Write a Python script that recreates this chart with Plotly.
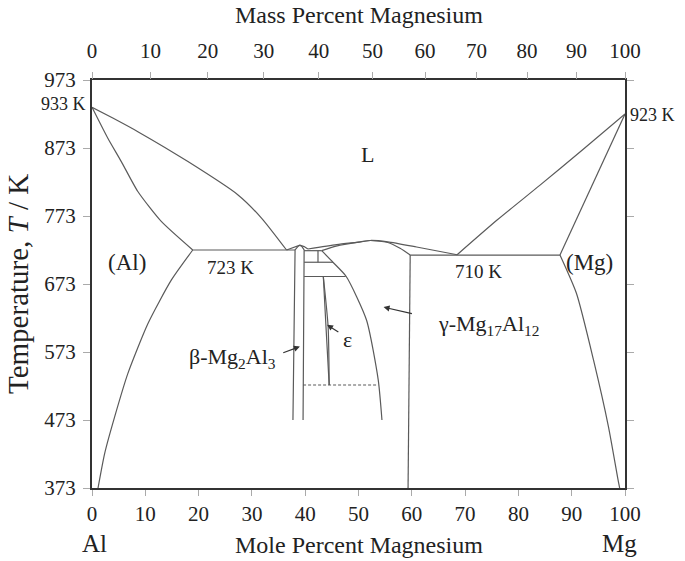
import plotly.graph_objects as go

# ---- data (mole % Mg, temperature K) ----
liq_al_x = [0, 3.9, 8.6, 18.0, 27.4, 31.8, 36.5]
liq_al_t = [933, 917, 897, 853, 804, 770, 723]

sol_al_x = [0, 3.0, 5.5, 8.6, 13.0, 18.9]
sol_al_t = [933, 887, 853, 809, 765, 723]

solv_al_x = [18.9, 14.9, 10.5, 6.75, 4.26, 2.38, 1.13]
solv_al_t = [723, 679, 615, 542, 478, 424, 373]

eut1_x = [18.9, 38.1]
eut1_t = [723, 723]

beta_liq_x = [36.5, 38.3, 39.0, 39.8, 40.5]
beta_liq_t = [723, 728, 730, 728, 724.5]

beta_left_x = [39.0, 38.6, 38.1, 37.7]
beta_left_t = [730, 728, 723, 473]
beta_right_x = [39.0, 39.4, 39.8, 39.6]
beta_right_t = [730, 728, 723, 473]

eut2_x = [39.8, 43.1]
eut2_t = [722, 722]

short_v_x = [42.4, 42.4]
short_v_t = [722, 705]
h705_x = [39.8, 45.2]
h705_t = [705, 705]
h685_x = [39.8, 47.6]
h685_t = [684, 684]

gam_liq_x = [40.5, 45.9, 50.3, 52.2, 55.5, 60.9, 68.5]
gam_liq_t = [724.5, 731, 735, 737, 735, 727.4, 716]

gam_sol_l_x = [43.1, 46.0, 50.0, 52.2]
gam_sol_l_t = [722, 729, 734.5, 737]
gam_sol_r_x = [52.2, 55.5, 57.8, 59.7]
gam_sol_r_t = [737, 734, 725.5, 715.6]

gam_left_x = [43.1, 45.2, 47.7, 51.5, 53.7, 54.4]
gam_left_t = [722, 705, 684, 620, 532, 473]

gam_right_x = [59.7, 59.3]
gam_right_t = [715.6, 373]

eps_l_x = [43.4, 43.9, 44.5]
eps_l_t = [684, 610, 524.5]
eps_r_x = [43.4, 44.3, 44.5]
eps_r_t = [684, 610, 524.5]

dash_x = [39.6, 53.7]
dash_t = [524.5, 524.5]

eut3_x = [59.7, 87.8]
eut3_t = [715.6, 715.6]

liq_mg_x = [68.5, 76, 84, 92, 100]
liq_mg_t = [716, 767, 818, 870, 923]

sol_mg_x = [87.8, 100]
sol_mg_t = [715.6, 923]

solv_mg_x = [87.8, 90.9, 94.1, 96.9, 98.7, 99.0]
solv_mg_t = [715.6, 659, 561, 463, 385, 373]

x_ticks = [0, 10, 20, 30, 40, 50, 60, 70, 80, 90, 100]
y_ticks = [373, 473, 573, 673, 773, 873, 973]
mass_ticks = [0, 10, 20, 30, 40, 50, 60, 70, 80, 90, 100]
M_MG, M_AL = 24.305, 26.982


def mass_to_mole(w):
    if w >= 100:
        return 100.0
    a = w / M_MG
    b = (100 - w) / M_AL
    return 100 * a / (a + b)


mass_pos = [mass_to_mole(w) for w in mass_ticks]

LC = "#5a5a5a"
FONT = "Liberation Serif"

fig = go.Figure()


def add_line(xs, ts, dash=None, smooth=False):
    line = dict(color=LC, width=1.2, dash=dash)
    if smooth:
        line.update(shape="spline", smoothing=0.6)
    fig.add_trace(go.Scatter(x=xs, y=ts, mode="lines", line=line,
                             showlegend=False, hoverinfo="skip"))


for xs, ts, sm in [(liq_al_x, liq_al_t, True), (sol_al_x, sol_al_t, True),
                   (solv_al_x, solv_al_t, True),
                   (eut1_x, eut1_t, False), (beta_liq_x, beta_liq_t, False),
                   (beta_left_x, beta_left_t, False), (beta_right_x, beta_right_t, False),
                   (eut2_x, eut2_t, False), (short_v_x, short_v_t, False),
                   (h705_x, h705_t, False), (h685_x, h685_t, False),
                   (gam_liq_x, gam_liq_t, True), (gam_sol_l_x, gam_sol_l_t, True),
                   (gam_sol_r_x, gam_sol_r_t, True), (gam_left_x, gam_left_t, True),
                   (gam_right_x, gam_right_t, False), (eps_l_x, eps_l_t, True),
                   (eps_r_x, eps_r_t, True), (eut3_x, eut3_t, False),
                   (liq_mg_x, liq_mg_t, True), (sol_mg_x, sol_mg_t, False),
                   (solv_mg_x, solv_mg_t, True)]:
    add_line(xs, ts, smooth=sm)
add_line(dash_x, dash_t, dash="3px,2px")

# invisible trace for top axis
fig.add_trace(go.Scatter(x=[0, 100], y=[373, 373], xaxis="x2", mode="lines",
                         line=dict(width=0), showlegend=False, hoverinfo="skip"))

tickfont = dict(family=FONT, size=21, color="#222")

fig.update_layout(
    width=685, height=561,
    margin=dict(l=92, r=60, t=80, b=73),
    plot_bgcolor="white", paper_bgcolor="white",
    font=dict(family=FONT, color="#222"),
    xaxis=dict(range=[0, 100], tickvals=x_ticks, ticktext=[str(v) for v in x_ticks],
               ticks="outside", ticklen=6, tickcolor="#aaa", tickwidth=1,
               showline=True, linecolor="#333", linewidth=2, mirror=True,
               showgrid=False, zeroline=False, tickfont=tickfont),
    xaxis2=dict(range=[0, 100], overlaying="x", side="top", anchor="y",
                tickvals=mass_pos, ticktext=[str(v) for v in mass_ticks],
                ticks="outside", ticklen=7, tickcolor="#aaa", tickwidth=1,
                ticklabelstandoff=6,
                showline=False, showgrid=False, zeroline=False, tickfont=tickfont),
    yaxis=dict(range=[373, 973], tickvals=y_ticks, ticktext=[str(v) for v in y_ticks],
               ticks="outside", ticklen=7, tickcolor="#aaa", tickwidth=1,
               ticklabelstandoff=3,
               showline=True, linecolor="#333", linewidth=2, mirror="ticks",
               showgrid=False, zeroline=False, tickfont=tickfont),
)

ann = []


def txt(x, y, s, size=18, xanchor="center", xref="x", xshift=0, yshift=0, yref="y"):
    ann.append(dict(x=x, y=y, xref=xref, yref=yref, text=s, showarrow=False,
                    xanchor=xanchor, yanchor="middle", xshift=xshift, yshift=yshift,
                    font=dict(family=FONT, size=size, color="#222")))


txt(0, 937, "933 K", size=18, xanchor="right", xshift=-4)
txt(100, 921, "923 K", size=18, xanchor="left", xshift=3)
txt(51.6, 863, "L", size=22)
txt(6.6, 705, "(Al)", size=23)
txt(25.9, 697, "723 K", size=19)
txt(72.6, 692, "710 K", size=19)
txt(93.4, 705, "(Mg)", size=23)
txt(74.3, 613, "γ-Mg<sub>17</sub>Al<sub>12</sub>", size=22)
txt(26.3, 564, "β-Mg<sub>2</sub>Al<sub>3</sub>", size=22)
txt(48.0, 591, "ε", size=22)
txt(0.5, 1, "Mass Percent Magnesium", size=24, xref="paper", yref="paper", yshift=65)
txt(0.5, 0, "Mole Percent Magnesium", size=24, xref="paper", yref="paper", yshift=-57)
txt(0.004, 0, "Al", size=25, xref="paper", yref="paper", yshift=-55)
txt(0.989, 0, "Mg", size=25, xref="paper", yref="paper", yshift=-55)

# y axis title
ann.append(dict(x=0, y=0.5, xref="paper", yref="paper", text="Temperature, <i>T</i> / K",
                showarrow=False, textangle=-90, xanchor="center", yanchor="middle",
                xshift=-74, font=dict(family=FONT, size=29, color="#222")))

for (hx, hy, tx, ty) in [(39.0, 581, 35.6, 571), (44.1, 613, 46.5, 601), (54.7, 639, 60.3, 629)]:
    ann.append(dict(x=hx, y=hy, ax=tx, ay=ty, xref="x", yref="y", axref="x", ayref="y",
                    showarrow=True, arrowhead=2, arrowsize=1, arrowwidth=1.2,
                    arrowcolor="#333", text=""))

fig.update_layout(annotations=ann)
fig.write_html("out.html", config={"displayModeBar": False},
               post_script="document.body.style.margin='0px';")
